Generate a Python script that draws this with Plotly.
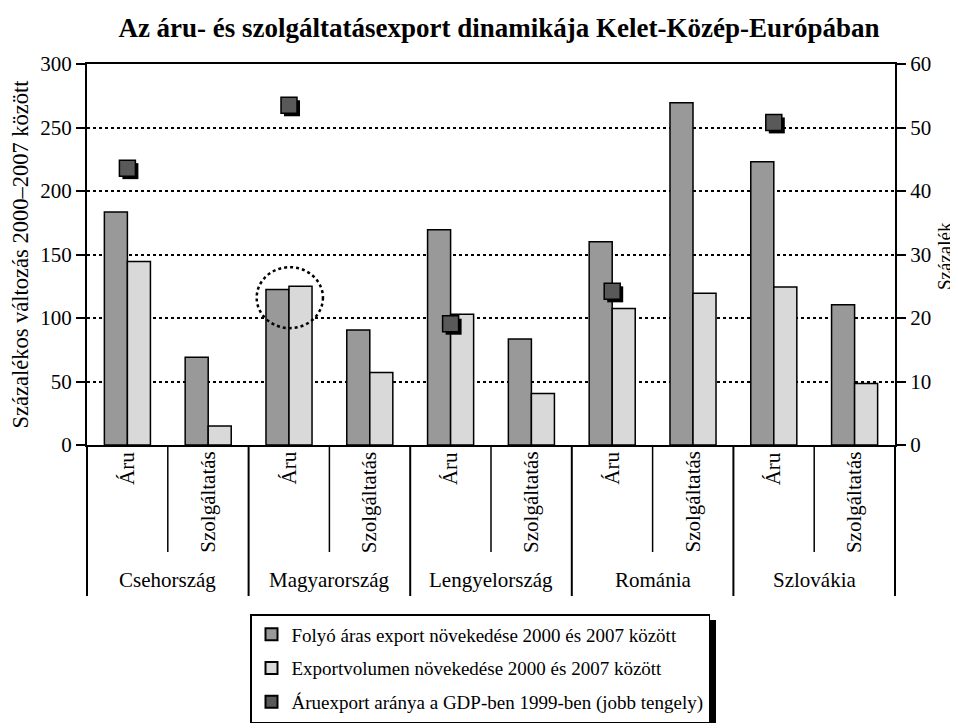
import plotly.graph_objects as go

# Országok és exporttípusok
orszagok = ["Csehország", "Magyarország", "Lengyelország", "Románia", "Szlovákia"]
tipusok = ["Áru", "Szolgáltatás"]
kategoriak = [f"{o} – {t}" for o in orszagok for t in tipusok]
aru_kategoriak = [f"{o} – Áru" for o in orszagok]

# Bal tengely: százalékos változás 2000-2007
folyo_aras = [183.5, 69, 122.5, 90.5, 169.5, 83.5, 160, 269.5, 223, 110.5]
volumen = [144.5, 15, 125, 57, 103, 40.5, 107.5, 119.5, 124.5, 48.5]
# Jobb tengely: áruexport aránya a GDP-ben 1999-ben
gdp_arany = [43.6, 53.5, 19.1, 24.2, 50.8]

nevek = [
    "Folyó áras export növekedése 2000 és 2007 között",
    "Exportvolumen növekedése 2000 és 2007 között",
    "Áruexport aránya a GDP-ben 1999-ben (jobb tengely)",
]

FONT = "Liberation Serif"
# a böngésző 8 px-es body margója miatt a figura 950x720-as
W, H, OFF = 950, 720, 8
PLOT_L, PLOT_R = 87, 895          # képernyő-pixelben
PLOT_TOP, PLOT_BOTTOM = 64, 445
PLOT_W, PLOT_H = PLOT_R - PLOT_L, PLOT_BOTTOM - PLOT_TOP


def py(pixel):
    # képernyő y -> paper y
    return (PLOT_BOTTOM - pixel) / PLOT_H


def px_(pixel):
    # képernyő x -> paper x
    return (pixel - PLOT_L) / PLOT_W


def font(size):
    return dict(family=FONT, size=size, color="black")


fig = go.Figure()
fig.add_trace(go.Bar(x=kategoriak, y=folyo_aras, name=nevek[0], legendgroup="a",
                     marker=dict(color="#999999", line=dict(color="black", width=1.5))))
fig.add_trace(go.Bar(x=kategoriak, y=volumen, name=nevek[1], legendgroup="b",
                     marker=dict(color="#d9d9d9", line=dict(color="black", width=1.5))))
# árnyék a négyzetek mögött
fig.add_trace(go.Scatter(x=aru_kategoriak, y=gdp_arany, mode="markers", xaxis="x3", yaxis="y3",
                         showlegend=False, hoverinfo="skip",
                         marker=dict(symbol="square", size=16, color="black")))
fig.add_trace(go.Scatter(x=aru_kategoriak, y=gdp_arany, mode="markers", xaxis="x4", yaxis="y4",
                         name=nevek[2], legendgroup="c",
                         marker=dict(symbol="square", size=16, color="#595959",
                                     line=dict(color="black", width=1.5))))
# a jobb tengelyt egy üres trace rögzíti
fig.add_trace(go.Scatter(x=[kategoriak[0]], y=[None], yaxis="y2", showlegend=False, hoverinfo="skip"))

shift_x = 3 / (PLOT_W / 10)
shift_y = 3 * 60 / PLOT_H
cat_axis = dict(type="category", categoryorder="array", categoryarray=kategoriak)

fig.update_layout(
    width=W, height=H,
    margin=dict(l=PLOT_L - OFF, r=W - (PLOT_R - OFF), t=PLOT_TOP - OFF,
                b=H - (PLOT_BOTTOM - OFF), autoexpand=False),
    paper_bgcolor="white", plot_bgcolor="white",
    font=font(19),
    title=dict(text="<b>Az áru- és szolgáltatásexport dinamikája Kelet-Közép-Európában</b>",
               font=font(27), x=(499 - OFF) / W, xanchor="center", xref="container",
               y=1 - (28 - OFF) / H, yanchor="middle", yref="container"),
    barmode="group", bargap=0.43, bargroupgap=0,
    xaxis=dict(**cat_axis, range=[-0.5, 9.5], showticklabels=False, ticks="",
               showline=True, mirror=True, linecolor="black", linewidth=2, showgrid=False),
    xaxis3=dict(**cat_axis, range=[-0.5 - shift_x, 9.5 - shift_x], overlaying="x", visible=False),
    xaxis4=dict(**cat_axis, range=[-0.5, 9.5], overlaying="x", visible=False),
    yaxis=dict(range=[0, 300], dtick=50, ticks="outside", ticklen=9, tickwidth=1.5,
               tickcolor="black", tickfont=font(21), showline=True, linecolor="black",
               linewidth=2, showgrid=True, gridcolor="black", griddash="dot", gridwidth=1.5,
               zeroline=False, automargin=False,
               title=dict(text="Százalékos változás 2000–2007 között", standoff=12,
                          font=font(22.5))),
    yaxis2=dict(range=[0, 60], dtick=10, overlaying="y", side="right", ticks="outside",
                ticklen=9, tickwidth=1.5, tickcolor="black", tickfont=font(21),
                showline=True, linecolor="black", linewidth=2, showgrid=False, zeroline=False,
                automargin=False),
    yaxis3=dict(range=[shift_y, 60 + shift_y], overlaying="y", visible=False),
    yaxis4=dict(range=[0, 60], overlaying="y", visible=False),
    legend=dict(x=px_(250), y=py(614), xanchor="left", yanchor="top",
                bordercolor="black", borderwidth=1.5, bgcolor="white",
                font=font(19), traceorder="grouped", tracegroupgap=6,
                itemsizing="constant"),
    showlegend=True,
)

shapes = []
# elválasztó vonalak a kategóriák alatt
for i in range(11):
    outer = i % 2 == 0
    shapes.append(dict(type="line", xref="paper", yref="paper", x0=i / 10, x1=i / 10,
                       y0=0, y1=py(596 if outer else 552),
                       line=dict(color="black", width=2 if outer else 1.5)))
# kiemelő kör Magyarország áruexportja körül
shapes.append(dict(type="circle", xref="x", yref="y", x0=1.6, x1=2.42, y0=92, y1=140,
                   line=dict(color="black", width=2.5, dash="dot")))
# jelmagyarázat árnyéka
shapes.append(dict(type="rect", xref="paper", yref="paper", x0=px_(256),
                   x1=px_(716), y0=py(723), y1=py(620),
                   fillcolor="black", line=dict(width=0), layer="below"))
fig.update_layout(shapes=shapes)

annotations = []
for i, kat in enumerate(kategoriak):
    annotations.append(dict(text=tipusok[i % 2], xref="paper", yref="paper",
                            x=(i + 0.5) / 10, y=py(450), xanchor="center", yanchor="top",
                            textangle=-90, showarrow=False, font=font(21)))
for k, orszag in enumerate(orszagok):
    annotations.append(dict(text=orszag, xref="paper", yref="paper",
                            x=(2 * k + 1) / 10, y=py(580), xanchor="center", yanchor="middle",
                            showarrow=False, font=font(21)))
# jobb tengely felirata
annotations.append(dict(text="Százalék", xref="paper", yref="paper", x=px_(944), y=py(256),
                        xanchor="center", yanchor="middle", textangle=-90, showarrow=False,
                        font=font(19)))
fig.update_layout(annotations=annotations)

fig.write_html("out.html")
